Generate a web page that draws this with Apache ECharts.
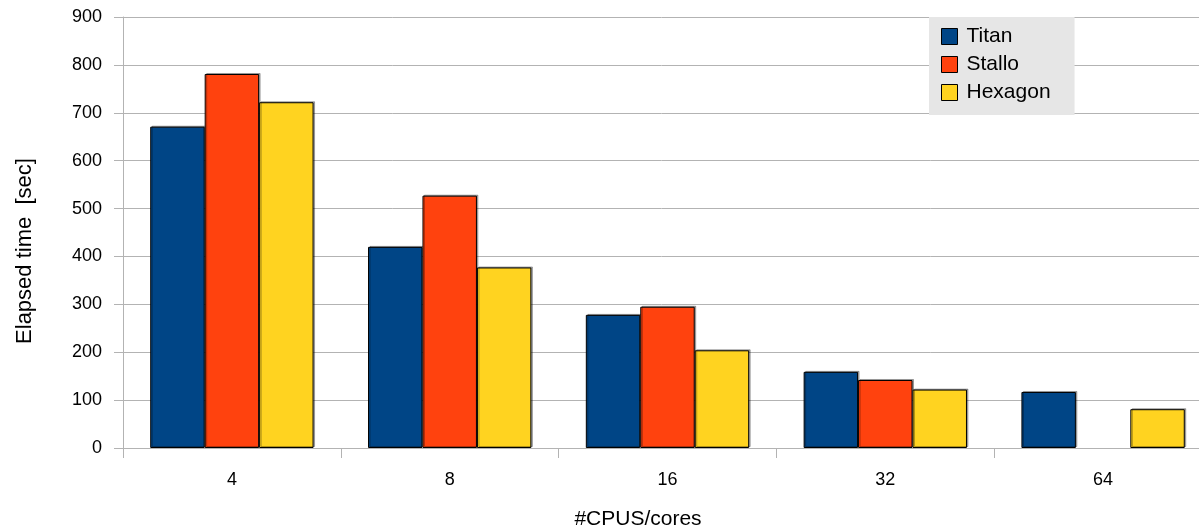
<!DOCTYPE html>
<html>
<head>
<meta charset="utf-8">
<script src="https://cdn.jsdelivr.net/npm/echarts@6/dist/echarts.min.js"></script>
<style>
html,body{margin:0;padding:0;background:#fff;}
#chart{width:1199px;height:531px;}
</style>
</head>
<body>
<div id="chart"></div>
<script>
const categories = ['4', '8', '16', '32', '64'];
const titan = [671, 420, 278, 159, 117];
const stallo = [781, 527, 295, 142, null];
const hexagon = [722, 377, 204, 122, 81];
const seriesNames = ['Titan', 'Stallo', 'Hexagon'];
const seriesColors = ['#004586', '#ff420e', '#ffd320'];
const yTicks = { min: 0, max: 900, interval: 100 };

const chart = echarts.init(document.getElementById('chart'));
const font = '"Liberation Sans", Arial, sans-serif';
function barSeries(name, data, color) {
  return {
    name: name, type: 'bar', data: data,
    barGap: '0%', barCategoryGap: '25%',
    itemStyle: { color: color, borderColor: '#000', borderWidth: 1,
      shadowColor: 'rgba(0,0,0,0.3)', shadowOffsetX: 1.5, shadowOffsetY: -1, shadowBlur: 0 },
    emphasis: { disabled: true }
  };
}
chart.setOption({
  animation: false,
  backgroundColor: '#ffffff',
  grid: { left: 123, top: 17, width: 1089, height: 431, outerBoundsMode: 'none', containLabel: false },
  legend: {
    orient: 'vertical', left: 929, top: 17,
    padding: [9, 24, 12, 12],
    backgroundColor: '#e6e6e6',
    itemWidth: 16, itemHeight: 16, itemGap: 7,
    textStyle: { fontFamily: font, fontSize: 21, color: '#000', padding: [0, 0, 0, 4] },
    icon: 'rect',
    itemStyle: { borderColor: '#000', borderWidth: 1 },
    data: seriesNames
  },
  xAxis: {
    type: 'category', data: categories,
    axisLine: { lineStyle: { color: '#b3b3b3', width: 1 } },
    axisTick: { show: true, length: 10, lineStyle: { color: '#b3b3b3' } },
    axisLabel: { fontFamily: font, fontSize: 18, color: '#000', margin: 23 }
  },
  yAxis: {
    type: 'value', min: yTicks.min, max: yTicks.max, interval: yTicks.interval,
    axisLine: { show: true, lineStyle: { color: '#b3b3b3', width: 1 } },
    axisTick: { show: true, length: 9, inside: false, lineStyle: { color: '#b3b3b3' } },
    splitLine: { lineStyle: { color: '#b3b3b3', width: 1 } },
    axisLabel: { fontFamily: font, fontSize: 18, color: '#000', margin: 21 }
  },
  graphic: [
    { type: 'text', x: 638, y: 519, style: { text: '#CPUS/cores', font: '21px "Liberation Sans", Arial, sans-serif', fill: '#000', align: 'center', verticalAlign: 'middle' } },
    { type: 'text', rotation: Math.PI / 2, x: 25, y: 251, style: { text: 'Elapsed time  [sec]', font: '22px "Liberation Sans", Arial, sans-serif', fill: '#000', align: 'center', verticalAlign: 'middle' } }
  ],
  series: [
    barSeries(seriesNames[0], titan, seriesColors[0]),
    barSeries(seriesNames[1], stallo, seriesColors[1]),
    barSeries(seriesNames[2], hexagon, seriesColors[2])
  ]
});
</script>
</body>
</html>
